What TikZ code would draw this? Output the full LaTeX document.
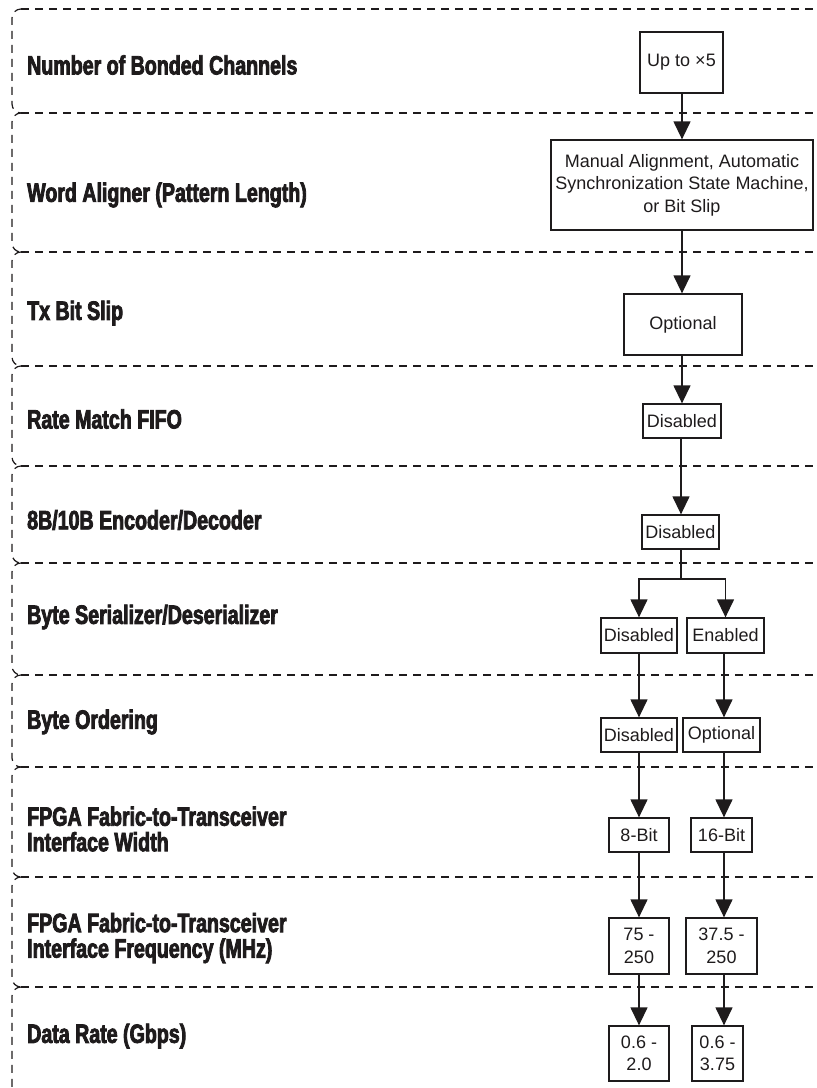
\documentclass[tikz,border=0pt]{standalone}
\usepackage{fontspec}
\setmainfont{Liberation Sans}
\newfontfamily\lblfamily[FakeStretch=0.74,BoldFeatures={FakeBold=3}]{Liberation Sans}
\usetikzlibrary{arrows.meta}
\definecolor{ink}{RGB}{30,27,28}
\begin{document}
\begin{tikzpicture}[x=1pt,y=-1pt,
  box/.style={draw=ink,line width=1.3pt,fill=white,inner sep=0pt,align=center,text=ink,
    font=\fontsize{18}{22.5}\selectfont},
  conn/.style={draw=ink,line width=1.3pt,-{Triangle[length=18pt,width=17pt]}},
  band/.style={draw=ink,line width=1.2pt,dash pattern=on 8pt off 6pt},
  lbl/.style={anchor=west,align=left,inner sep=0pt,text=ink,
    font=\lblfamily\bfseries\fontsize{26.5}{25.5}\selectfont}]

\useasboundingbox (0,0) rectangle (817,1088);
\clip (0,0) rectangle (817,1088);

% horizontal band separators
\foreach \y in {9,113,252,366,466,563,675,767,877,987}
  \draw[band] (21,\y) -- (817,\y);
% rounded left edges of the bands
\foreach \t/\b in {9/113,113/252,252/366,366/466,466/563,563/675,675/767,767/877,877/987,987/1120}
  \draw[band,rounded corners=9pt] (22,\t) -- (12,\t) -- (12,\b) -- (22,\b);

% row captions
\node[lbl] (l1)  at (27,65)   {Number of Bonded Channels};
\node[lbl] (l2)  at (27,195)  {Word Aligner (Pattern Length)};
\node[lbl] (l3)  at (27,313)  {Tx Bit Slip};
\node[lbl] (l4)  at (27,419)  {Rate Match FIFO};
\node[lbl] (l5)  at (27,520)  {8B/10B Encoder/Decoder};
\node[lbl] (l6)  at (27,617)  {Byte Serializer/Deserializer};
\node[lbl] (l7)  at (27,722)  {Byte Ordering};
\node[lbl] (l8)  at (27,829)  {FPGA Fabric-to-Transceiver\\Interface Width};
\node[lbl] (l9)  at (27,938)  {FPGA Fabric-to-Transceiver\\Interface Frequency (MHz)};
\node[lbl] (l10) at (27,1036) {Data Rate (Gbps)};

% option boxes
\node[box,minimum width=83pt,minimum height=61pt]  (b1)  at (681.5,62.5) {Up to ×5};
\node[box,minimum width=262pt,minimum height=90pt] (b2)  at (682,185)
  {Manual Alignment, Automatic\\Synchronization State Machine,\\or Bit Slip};
\node[box,minimum width=118pt,minimum height=61pt] (b3)  at (683,324.5) {Optional};
\node[box,minimum width=78pt,minimum height=34pt]  (b4)  at (682,421) {Disabled};
\node[box,minimum width=77pt,minimum height=34pt]  (b5)  at (680.5,532) {Disabled};
\node[box,minimum width=76pt,minimum height=35pt]  (b6a) at (639,635.5) {Disabled};
\node[box,minimum width=77pt,minimum height=35pt]  (b6b) at (725.5,635.5) {Enabled};
\node[box,minimum width=76pt,minimum height=34pt]  (b7a) at (639,735) {Disabled};
\node[box,minimum width=77pt,minimum height=34pt]  (b7b) at (721.5,735) {Optional};
\node[box,minimum width=60pt,minimum height=34pt]  (b8a) at (639,835) {8-Bit};
\node[box,minimum width=61pt,minimum height=34pt]  (b8b) at (721.5,835) {16-Bit};
\node[box,minimum width=60pt,minimum height=56pt]  (b9a) at (639,946) {75 -\\250};
\node[box,minimum width=71pt,minimum height=56pt]  (b9b) at (721.5,946) {37.5 -\\250};
\node[box,minimum width=60pt,minimum height=55pt]  (b10a) at (639,1053.5) {0.6 -\\2.0};
\node[box,minimum width=51pt,minimum height=55pt]  (b10b) at (717.5,1053.5) {0.6 -\\3.75};

% column guides and branch point
\coordinate (cM) at (682,0);
\coordinate (cR) at (724,0);
\coordinate (split) at (681,579);

% connectors
\draw[conn] (b1.south -| cM) -- (b2.north -| cM);
\draw[conn] (b2.south -| cM) -- (b3.north -| cM);
\draw[conn] (b3.south -| cM) -- (b4.north -| cM);
\draw[conn] (b4.south -| split) -- (b5.north -| split);
\draw[draw=ink,line width=1.3pt] (b5.south -| split) -- (split);
\draw[conn] (split) -| (b6a.north);
\draw[conn] (split) -| (b6b.north);
\draw[conn] (b6a.south) -- (b7a.north);
\draw[conn] (b7a.south) -- (b8a.north);
\draw[conn] (b8a.south) -- (b9a.north);
\draw[conn] (b9a.south) -- (b10a.north);
\draw[conn] (b6b.south -| cR) -- (b7b.north -| cR);
\draw[conn] (b7b.south -| cR) -- (b8b.north -| cR);
\draw[conn] (b8b.south -| cR) -- (b9b.north -| cR);
\draw[conn] (b9b.south -| cR) -- (b10b.north -| cR);
\end{tikzpicture}
\end{document}
